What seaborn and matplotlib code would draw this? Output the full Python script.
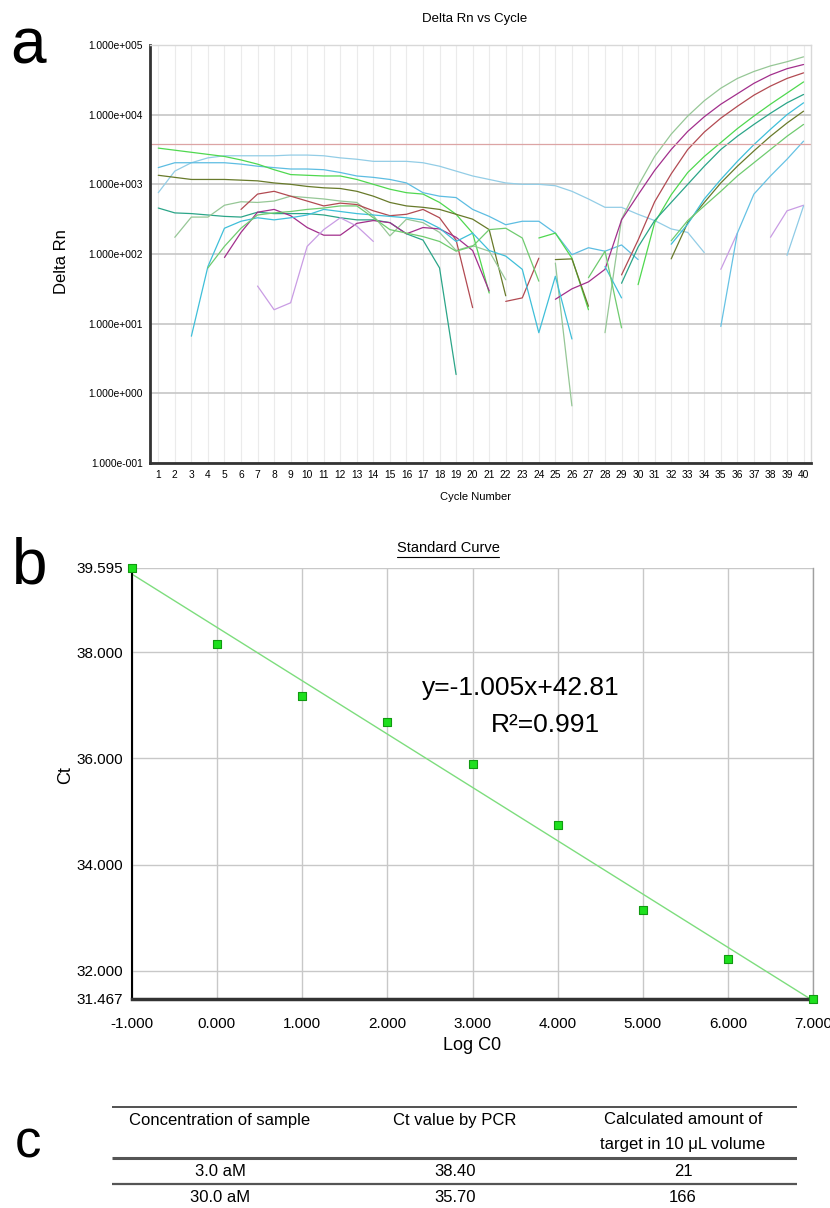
import numpy as np
import pandas as pd
import matplotlib
matplotlib.use('Agg')
import matplotlib.pyplot as plt
import seaborn as sns
from matplotlib.ticker import FuncFormatter, NullLocator
from matplotlib.lines import Line2D

N = np.nan

# ---- panel a: amplification curves, log10(Delta Rn) per cycle 1..40 ----
cycles = list(range(1, 41))
threshold = 3800

sky_a = [2.88, 3.19, 3.31, 3.38, 3.41, 3.41, 3.41, 3.41, 3.42, 3.42,
         3.41, 3.38, 3.36, 3.33, 3.33, 3.33, 3.31, 3.26, 3.19, 3.12,
         3.07, 3.02, 3.00, 3.00, 2.98, 2.90, 2.79, 2.67, 2.67, 2.57,
         2.48, 2.36, 2.31, 2.02, N, N, N, N, N, N]
sky_b = [3.24, 3.31, 3.31, 3.31, 3.31, 3.29, 3.26, 3.24, 3.22, 3.22,
         3.21, 3.17, 3.12, 3.10, 3.07, 3.02, 2.88, 2.83, 2.81, 2.64,
         2.54, 2.42, 2.47, 2.47, 2.30, 1.99, 2.09, 2.04, 2.13, 1.92,
         N, N, N, N, N, N, N, N, N, N]
green_b = [3.52, 3.49, 3.46, 3.43, 3.40, 3.35, 3.29, 3.21, 3.14, 3.13,
           3.12, 3.12, 3.07, 3.00, 2.93, 2.88, 2.86, 2.74, 2.57, 2.30,
           1.44, N, N, 2.23, 2.30, 1.94, 1.20, N, N, 1.56,
           2.45, 2.85, 3.17, 3.40, 3.60, 3.80, 3.98, 4.15, 4.31, 4.47]
olive = [3.13, 3.10, 3.07, 3.07, 3.07, 3.06, 3.05, 3.02, 3.00, 2.97,
         2.95, 2.94, 2.90, 2.83, 2.74, 2.69, 2.67, 2.64, 2.57, 2.50,
         2.35, 1.40, N, N, 1.92, 1.93, 1.25, N, N, N,
         N, 1.93, 2.45, 2.74, 3.02, 3.26, 3.48, 3.69, 3.88, 4.05]
teal = [2.66, 2.59, 2.58, 2.56, 2.54, 2.53, 2.60, 2.58, 2.58, 2.58,
        2.56, 2.52, 2.49, 2.49, 2.45, 2.29, 2.20, 1.80, 0.27, N,
        N, N, N, N, N, N, N, N, 1.58, 2.10,
        2.48, 2.74, 3.00, 3.26, 3.50, 3.69, 3.86, 4.02, 4.17, 4.29]
pale = [N, 2.24, 2.53, 2.53, 2.70, 2.75, 2.74, 2.76, 2.83, 2.81,
        2.79, 2.76, 2.74, 2.55, 2.26, 2.50, 2.45, 2.31, 2.05, 2.12,
        2.04, 1.63, N, N, 1.87, -0.18, N, 0.87, 2.50, 2.98,
        3.40, 3.72, 3.98, 4.20, 4.38, 4.52, 4.62, 4.70, 4.76, 4.83]
red = [N, N, N, N, N, 2.64, 2.86, 2.90, 2.83, 2.76,
       2.69, 2.73, 2.71, 2.62, 2.55, 2.57, 2.64, 2.52, 2.20, 1.23,
       N, 1.32, 1.37, 1.94, N, N, N, N, 1.70, 2.20,
       2.75, 3.15, 3.50, 3.75, 3.95, 4.12, 4.28, 4.41, 4.52, 4.60]
magenta = [N, N, N, N, 1.95, 2.31, 2.60, 2.64, 2.55, 2.38,
           2.27, 2.27, 2.44, 2.48, 2.45, 2.29, 2.38, 2.36, 2.24, 2.05,
           1.47, N, N, N, 1.35, 1.50, 1.60, 1.78, 2.49, 2.85,
           3.20, 3.50, 3.76, 3.97, 4.15, 4.30, 4.45, 4.57, 4.66, 4.72]
lavender = [N, N, N, N, N, N, 1.54, 1.20, 1.30, 2.11,
            2.35, 2.52, 2.40, 2.18, N, N, N, N, N, N,
            N, N, N, N, N, N, N, N, N, N,
            N, N, N, N, 1.78, 2.30, N, 2.24, 2.62, 2.70]
cyan = [N, N, 0.82, 1.82, 2.37, 2.47, 2.52, 2.49, 2.52, 2.56,
        2.64, 2.61, 2.58, 2.56, 2.54, 2.52, 2.49, 2.37, 2.18, 2.30,
        2.05, 1.97, 1.78, 0.87, 1.68, 0.78, N, 1.82, 1.37, N,
        N, 2.14, 2.43, 2.79, 3.07, 3.33, 3.57, 3.79, 4.00, 4.17]
green_m = [N, N, N, 1.80, 2.11, 2.37, 2.56, 2.59, 2.61, 2.64,
           2.66, 2.69, 2.69, 2.52, 2.35, 2.30, 2.25, 2.18, 2.04, 2.11,
           2.35, 2.37, 2.23, 1.61, N, N, 1.66, 2.04, 0.94, N,
           N, 2.19, 2.48, 2.69, 2.90, 3.12, 3.31, 3.50, 3.69, 3.86]
sky_c = [N, N, N, N, N, N, N, N, N, N,
         N, N, N, N, N, N, N, N, N, N,
         N, N, N, N, N, N, N, N, N, N,
         N, N, N, N, 0.96, 2.30, 2.86, 3.12, 3.36, 3.62]
sky_d = [N, N, N, N, N, N, N, N, N, N,
         N, N, N, N, N, N, N, N, N, N,
         N, N, N, N, N, N, N, N, N, N,
         N, N, N, N, N, N, N, N, 1.98, 2.69]

traces = {
    'sky_a': (sky_a, '#93cde6'), 'sky_b': (sky_b, '#5dbde2'),
    'green_b': (green_b, '#4fd84f'), 'olive': (olive, '#687a2a'),
    'teal': (teal, '#2ba588'), 'pale': (pale, '#96c796'),
    'red': (red, '#b24a52'), 'magenta': (magenta, '#a22f8c'),
    'lavender': (lavender, '#c99ce4'), 'cyan': (cyan, '#3fbfd9'),
    'green_m': (green_m, '#6fcb6f'), 'sky_c': (sky_c, '#66c2e4'),
    'sky_d': (sky_d, '#8fcbe6'),
}

# ---- panel b: standard curve ----
log_c0 = [-1, 0, 1, 2, 3, 4, 5, 6, 7]
ct = [39.595, 38.16, 37.18, 36.69, 35.89, 34.74, 33.14, 32.23, 31.467]
ct_ticks = [31.467, 32, 34, 36, 38, 39.595]

# ---- panel c: table ----
col_heads = ['Concentration of sample', 'Ct value by PCR',
             'Calculated amount of\ntarget in 10 μL volume']
conc = ['3.0 aM', '30.0 aM']
ct_pcr = ['38.40', '35.70']
amount = ['21', '166']

sns.set_style('white')
plt.rcParams['font.family'] = ['Liberation Sans', 'DejaVu Sans']
plt.rcParams['text.color'] = 'black'
plt.rcParams['xtick.color'] = 'black'
plt.rcParams['ytick.color'] = 'black'

W, H = 830, 1208
fig = plt.figure(figsize=(W / 100, H / 100), dpi=100)


def fx(px):
    return px / W


def fy(py):
    return 1 - py / H


# ---------------- panel a ----------------
ax_a = fig.add_axes([fx(150), fy(463), fx(661), 418 / H])
rows = []
palette = {}
for name, (vals, col) in traces.items():
    seg = 0
    prev_nan = True
    for c, v in zip(cycles, vals):
        if np.isnan(v):
            prev_nan = True
            continue
        if prev_nan:
            seg += 1
            prev_nan = False
        key = f'{name}_{seg}'
        palette[key] = col
        rows.append({'cycle': c, 'rn': 10 ** v, 'seg': key})
df_a = pd.DataFrame(rows)
sns.lineplot(data=df_a, x='cycle', y='rn', hue='seg', palette=palette,
             estimator=None, legend=False, lw=0.9, ax=ax_a)
ax_a.axhline(threshold, color='#dca4a4', lw=0.9)
ax_a.set_yscale('log')
ax_a.set_ylim(1e-1, 1e5)
ax_a.set_xlim(0.5, 40.45)
ax_a.set_xticks(cycles)
ax_a.set_yticks([10.0 ** e for e in range(-1, 6)])
ax_a.yaxis.set_minor_locator(NullLocator())
ax_a.yaxis.set_major_formatter(FuncFormatter(
    lambda v, p: f"1.000e{int(round(np.log10(v))):+04d}"))
ax_a.tick_params(axis='both', length=0, labelsize=7.4, pad=5)
ax_a.grid(axis='x', color='#ebebeb', lw=0.8)
ax_a.grid(axis='y', color='#c6c6c6', lw=1.2)
ax_a.set_xlabel('')
ax_a.set_ylabel('')
for s in ['left', 'bottom']:
    ax_a.spines[s].set_color('#333333')
    ax_a.spines[s].set_linewidth(2)
for s in ['top', 'right']:
    ax_a.spines[s].set_color('#d8d8d8')
    ax_a.spines[s].set_linewidth(1)

fig.text(fx(475), fy(19), 'Delta Rn vs Cycle', fontsize=9.5,
         ha='center', va='center')
fig.text(fx(62), fy(262), 'Delta Rn', fontsize=12, rotation=90,
         ha='center', va='center')
fig.text(fx(475), fy(497), 'Cycle Number', fontsize=8,
         ha='center', va='center')

# ---------------- panel b ----------------
ax_b = fig.add_axes([fx(131.7), fy(999), fx(681.6), 431.3 / H])
sns.regplot(x=log_c0, y=ct, ci=None, marker='s', ax=ax_b,
            scatter_kws=dict(s=36, color='#1ee01e', edgecolors='#119a11',
                             linewidths=0.8, clip_on=False, zorder=5, alpha=1),
            line_kws=dict(color='#7ddd7d', lw=1))
ax_b.set_xlim(-1, 7)
ax_b.set_ylim(ct_ticks[0], ct_ticks[-1])
ax_b.set_xticks(log_c0)
ax_b.set_yticks(ct_ticks)
ax_b.xaxis.set_major_formatter(FuncFormatter(lambda v, p: f'{v:.3f}'))
ax_b.yaxis.set_major_formatter(FuncFormatter(lambda v, p: f'{v:.3f}'))
ax_b.tick_params(axis='both', length=0, labelsize=11, pad=6)
ax_b.tick_params(axis='x', pad=13)
ax_b.grid(color='#c8c8c8', lw=1)
ax_b.set_axisbelow(True)
ax_b.spines['left'].set_color('black')
ax_b.spines['left'].set_linewidth(1.5)
ax_b.spines['bottom'].set_color('#333333')
ax_b.spines['bottom'].set_linewidth(2.5)
ax_b.spines['right'].set_color('#a0a0a0')
ax_b.spines['right'].set_linewidth(1)
ax_b.spines['top'].set_visible(False)

title_b = fig.text(fx(448), fy(548), 'Standard Curve', fontsize=10.5,
                   ha='center', va='center')
fig.text(fx(66), fy(775), 'Ct', fontsize=13, rotation=90,
         ha='center', va='center')
fig.text(fx(472), fy(1045), 'Log C0', fontsize=13,
         ha='center', va='center')
fig.text(fx(521), fy(688), 'y=-1.005x+42.81', fontsize=19,
         ha='center', va='center')
fig.text(fx(545), fy(725), 'R²=0.991', fontsize=19,
         ha='center', va='center')

# ---------------- panel labels ----------------
fig.text(fx(28), fy(47), 'a', fontsize=46, ha='center', va='center')
fig.text(fx(30), fy(566), 'b', fontsize=46, ha='center', va='center')
fig.text(fx(28), fy(1144), 'c', fontsize=38, ha='center', va='center')

# ---------------- panel c: table ----------------
ax_c = fig.add_axes([fx(112), 0, fx(685), (H - 1098) / H])
ax_c.set_xlim(112, 797)
ax_c.set_ylim(H, 1098)
ax_c.axis('off')
tfont = dict(family=['Liberation Sans', 'DejaVu Sans'],
             fontsize=12, ha='center', va='center')
col_x = [220, 455, 683]
ax_c.hlines([1107], 112, 797, color='#333333', lw=1.2)
ax_c.hlines([1157.5], 112, 797, color='#555555', lw=2.2)
ax_c.hlines([1184], 112, 797, color='#555555', lw=1.6)
ax_c.text(col_x[0], 1120, col_heads[0], **tfont)
ax_c.text(col_x[1], 1120, col_heads[1], **tfont)
head3 = col_heads[2].split('\n')
ax_c.text(col_x[2], 1120, head3[0], **tfont)
ax_c.text(col_x[2], 1145, head3[1], **tfont)
for i, y in enumerate([1171, 1197]):
    ax_c.text(col_x[0], y, conc[i], **tfont)
    ax_c.text(col_x[1], y, ct_pcr[i], **tfont)
    ax_c.text(col_x[2], y, amount[i], **tfont)

# underline under the standard curve title
fig.canvas.draw()
bb = title_b.get_window_extent().transformed(fig.transFigure.inverted())
fig.add_artist(Line2D([bb.x0, bb.x1], [bb.y0 - 1.5 / H, bb.y0 - 1.5 / H],
                      transform=fig.transFigure, color='black', lw=0.8))

fig.savefig('out.png', dpi=100)
